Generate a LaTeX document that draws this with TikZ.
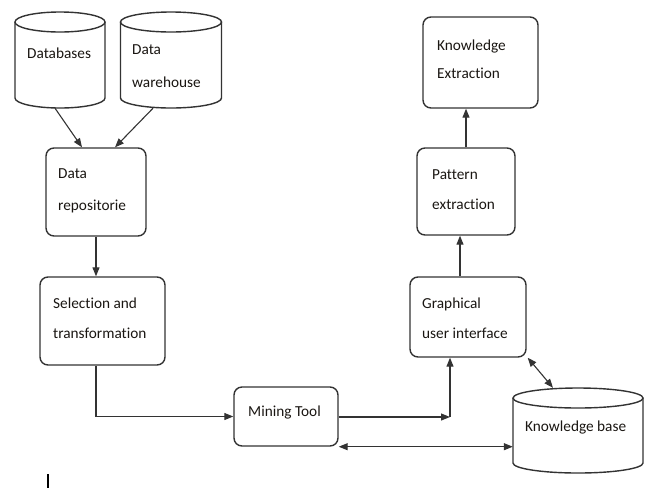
\documentclass[tikz,border=0pt]{standalone}
\usepackage{fontspec}
\setmainfont{Carlito}[Ligatures=NoCommon]
\usetikzlibrary{arrows.meta}
\definecolor{ln}{HTML}{333333}
\definecolor{tx}{HTML}{1A1612}
\tikzset{
  box/.style={draw=ln, line width=1.4pt, rounded corners=8pt, inner sep=0pt},
  area/.style={draw=none, inner sep=0pt},
  lbl/.style={anchor=west, inner sep=0pt, align=left, text=tx, font=\fontsize{15.3}{30}\selectfont},
  arr/.style={draw=ln, line width=1.1pt, -{Triangle[length=9pt,width=7pt]}},
  darr/.style={draw=ln, line width=1.1pt, {Triangle[length=9pt,width=7pt]}-{Triangle[length=9pt,width=7pt]}},
  cyl/.style={draw=ln, line width=1.4pt}
}
\begin{document}
\begin{tikzpicture}[x=1pt,y=1pt]
\useasboundingbox (0,0) rectangle (655,-488);
% cylinder areas
\node[area, minimum width=90pt, minimum height=96pt] (db) at (60,-60) {};
\node[area, minimum width=101pt, minimum height=96pt] (wh) at (171,-60) {};
\node[area, minimum width=130pt, minimum height=85pt] (kb) at (578,-430.5) {};
% cylinders drawn
\draw[cyl] (15,-22) -- (15,-98) arc[start angle=180, end angle=360, x radius=45, y radius=10] -- (105,-22);
\draw[cyl] (60,-22) ellipse[x radius=45, y radius=10];
\draw[cyl] (120.5,-22) -- (120.5,-98) arc[start angle=180, end angle=360, x radius=50.5, y radius=10] -- (221.5,-22);
\draw[cyl] (171,-22) ellipse[x radius=50.5, y radius=10];
\draw[cyl] (513,-398) -- (513,-463) arc[start angle=180, end angle=360, x radius=65, y radius=10] -- (643,-398);
\draw[cyl, fill=white] (578,-398) ellipse[x radius=65, y radius=10];
% boxes
\node[box, minimum width=100pt, minimum height=88pt] (rep) at (96,-192) {};
\node[box, minimum width=125pt, minimum height=88pt] (sel) at (102.5,-321) {};
\node[box, minimum width=104pt, minimum height=59pt] (mine) at (286,-416.5) {};
\node[box, minimum width=116pt, minimum height=80pt] (gui) at (468,-317) {};
\node[box, minimum width=98pt, minimum height=87pt] (pat) at (466,-191.5) {};
\node[box, minimum width=115pt, minimum height=91pt] (ke) at (480.5,-62.5) {};
% labels
\node[lbl] (tdb) at (27,-53) {Databases};
\node[lbl, font=\fontsize{15.3}{33}\selectfont] (twh) at (132,-66.5) {Data\\warehouse};
\node[lbl, font=\fontsize{15.3}{32}\selectfont] (trep) at (58,-191) {Data\\repositorie};
\node[lbl] (tsel) at (53,-318) {Selection and\\transformation};
\node[lbl] (tmine) at (248,-412) {Mining Tool};
\node[lbl] (tgui) at (422,-318) {Graphical\\user interface};
\node[lbl] (tpat) at (432,-190) {Pattern\\extraction};
\node[lbl, font=\fontsize{15.3}{28}\selectfont] (tke) at (437,-59) {Knowledge\\Extraction};
\node[lbl] (tkb) at (525,-427) {Knowledge base};
% connectors
\draw[arr] ([xshift=-5pt]db.south) -- ([xshift=-14pt]rep.north);
\draw[arr] ([xshift=-18pt]wh.south) -- ([xshift=19pt]rep.north);
\draw[arr] (rep.south) -- (rep.south |- sel.north);
\draw[arr] (rep.south |- sel.south) |- (mine.west);
\coordinate (corner) at (450,-417);
\draw[arr] (mine.east |- corner) -- (corner);
\draw[arr] (corner) -- (corner |- gui.south);
\draw[darr] (mine.south east) -- (mine.south east -| kb.west);
\draw[darr] ([xshift=1pt]gui.south east) -- ([xshift=-25pt]kb.north);
\draw[arr] ([xshift=-8pt]gui.north) -- ([xshift=-8pt]gui.north |- pat.south);
\draw[arr] (pat.north) -- (pat.north |- ke.south);
% stray mark
\coordinate (m1) at (48,-474);
\coordinate (m2) at (48,-488);
\draw[line width=1.8pt] (m1) -- (m2);
\end{tikzpicture}
\end{document}
